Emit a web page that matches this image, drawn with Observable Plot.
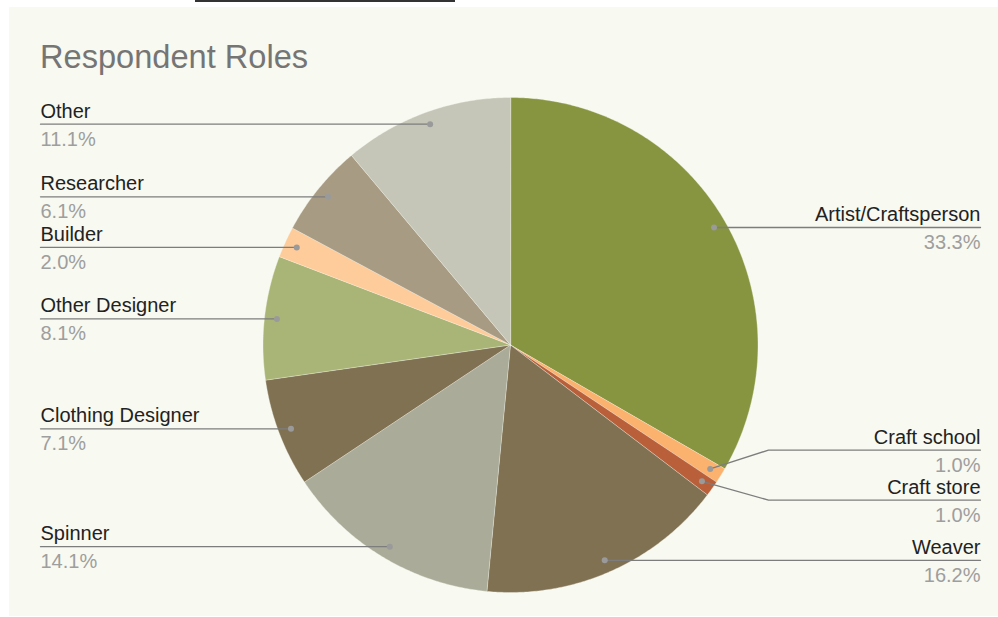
<!DOCTYPE html>
<html><head><meta charset="utf-8">
<script src="https://cdn.jsdelivr.net/npm/d3@7"></script>
<script src="https://cdn.jsdelivr.net/npm/@observablehq/plot@0.6"></script>
<style>
html,body{margin:0;padding:0;background:#fff;}
#wrap{position:relative;width:998px;height:617px;overflow:hidden;font-family:"Liberation Sans",Arial,sans-serif;}
#panel{position:absolute;left:9px;top:7px;width:989px;height:609px;background:#f8f9f0;}
#topline{position:absolute;left:195px;top:0;width:260px;height:2px;background:#333;}
#title{position:absolute;left:40px;top:38px;font-size:32.6px;color:#757575;line-height:normal;white-space:nowrap;}
#chart{position:absolute;left:0;top:0;}
</style></head><body>
<div id="wrap"><div id="panel"></div><div id="topline"></div><div id="title">Respondent Roles</div><div id="chart"></div></div>
<script>
// ---- data ----
const roles = ["Artist/Craftsperson","Craft school","Craft store","Weaver","Spinner","Clothing Designer","Other Designer","Builder","Researcher","Other"];
const counts = [33,1,1,16,14,7,8,2,6,11];
const palette = ["#879440","#fbb26f","#b9603a","#807153","#aaab98","#807153","#a9b576","#fdcc9a","#a89b84","#c5c6b7"];

// ---- layout ----
const W = 998, H = 617, CX = 510, CY = 344.5, R = 247.5;
const dotR = 235 / R;          // leader dot radius (unit circle)
const labelX = 470 / R;        // label line end (units)
const elbowX = 258 / R;        // elbow for shifted labels
const gap = 50 / R;            // min vertical gap between labels

const total = d3.sum(counts);
let cum = 0;
const slices = roles.map((name, i) => {
  const a0 = 2 * Math.PI * cum / total;
  cum += counts[i];
  const a1 = 2 * Math.PI * cum / total;
  const pts = [{x: 0, y: 0}];
  const n = Math.max(2, Math.ceil((a1 - a0) / (Math.PI / 360)));
  for (let k = 0; k <= n; k++) {
    const a = a0 + (a1 - a0) * k / n;
    pts.push({x: Math.sin(a), y: Math.cos(a)});
  }
  const am = (a0 + a1) / 2;
  return {
    name, color: palette[i], pts,
    pct: (counts[i] / total * 100).toFixed(1) + "%",
    dx: dotR * Math.sin(am), dy: dotR * Math.cos(am),
    side: am < Math.PI ? 1 : -1
  };
});

// label placement with simple collision avoidance per side
for (const side of [1, -1]) {
  const items = slices.filter(s => s.side === side).sort((a, b) => b.dy - a.dy);
  items.forEach(s => s.ly = s.dy);
  for (let it = 0; it < 100; it++) {
    for (let k = 0; k < items.length - 1; k++) {
      const d = items[k].ly - items[k + 1].ly;
      if (d < gap) {
        const o = (gap - d) / 2;
        items[k].ly += o; items[k + 1].ly -= o;
      }
    }
  }
}
slices.forEach(s => {
  s.lx = s.side * labelX;
  s.shifted = Math.abs(s.ly - s.dy) > 1 / R;
});

const leaders = slices.flatMap(s => {
  const p = [{name: s.name, x: s.dx, y: s.dy}];
  if (s.shifted) p.push({name: s.name, x: s.side * elbowX, y: s.ly});
  p.push({name: s.name, x: s.lx, y: s.ly});
  return p;
});

const right = slices.filter(s => s.side === 1);
const left = slices.filter(s => s.side === -1);

const marks = [
  ...slices.map(s => Plot.line(s.pts, {x: "x", y: "y", fill: s.color, stroke: "#f8f9f0", strokeWidth: 0.35, curve: "linear-closed"})),
  Plot.line(leaders, {x: "x", y: "y", z: "name", stroke: "#7d7d7d", strokeWidth: 1.3}),
  Plot.dot(slices, {x: "dx", y: "dy", r: 3, fill: "#9a9a9a"}),
];
for (const [arr, anchor] of [[right, "end"], [left, "start"]]) {
  marks.push(Plot.text(arr, {x: "lx", y: "ly", text: "name", textAnchor: anchor, fontSize: 20, fill: "#222", dy: -13}));
  marks.push(Plot.text(arr, {x: "lx", y: "ly", text: "pct", textAnchor: anchor, fontSize: 20, fill: "#9e9e9e", dy: 15}));
}

const chart = Plot.plot({
  width: W, height: H,
  marginTop: 0, marginRight: 0, marginBottom: 0, marginLeft: 0,
  x: {domain: [-CX / R, (W - CX) / R], axis: null},
  y: {domain: [-(H - CY) / R, CY / R], axis: null},
  style: {background: "transparent", fontFamily: "'Liberation Sans', Arial, sans-serif"},
  marks
});
document.getElementById("chart").appendChild(chart);
</script>
</body></html>
